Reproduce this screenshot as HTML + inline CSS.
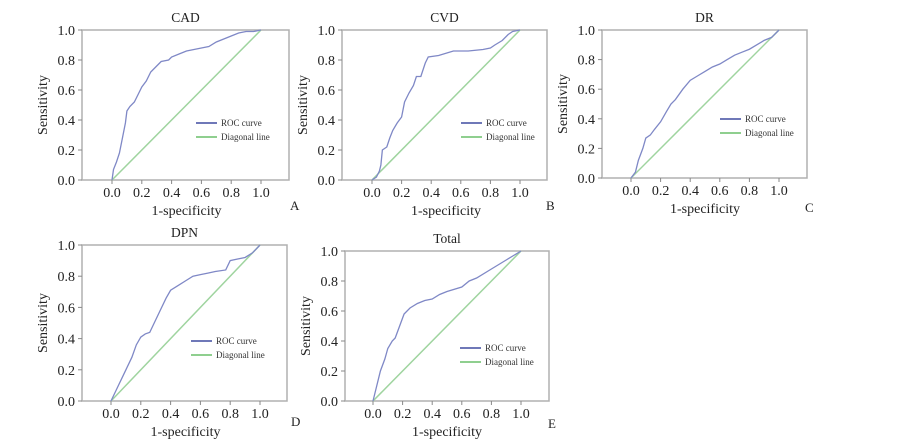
<!DOCTYPE html>
<html><head><meta charset="utf-8"><style>
body{margin:0;background:#fff;}
svg{display:block;font-family:"Liberation Serif",serif;}
</style></head><body>
<svg id="fig" width="904" height="446"></svg>
<script>
const panelTitles=["CAD","CVD","DR","DPN","Total"];
const panelLetters=["A","B","C","D","E"];
const xTicks=[0,0.2,0.4,0.6,0.8,1.0];
const yTicks=[0,0.2,0.4,0.6,0.8,1.0];
const cadFpr=[0,0.01,0.03,0.05,0.07,0.09,0.1,0.12,0.15,0.18,0.2,0.23,0.26,0.3,0.33,0.38,0.4,0.45,0.5,0.55,0.6,0.65,0.7,0.75,0.8,0.85,0.9,0.95,1];
const cadTpr=[0,0.07,0.12,0.18,0.28,0.38,0.46,0.49,0.52,0.58,0.62,0.66,0.72,0.76,0.79,0.80,0.82,0.84,0.86,0.87,0.88,0.89,0.92,0.94,0.96,0.98,0.99,0.99,1];
const cvdFpr=[0,0.03,0.05,0.06,0.07,0.1,0.12,0.14,0.17,0.2,0.22,0.25,0.28,0.3,0.33,0.36,0.38,0.45,0.55,0.65,0.75,0.8,0.83,0.88,0.92,0.95,1];
const cvdTpr=[0,0.02,0.06,0.1,0.2,0.22,0.28,0.33,0.38,0.42,0.52,0.58,0.63,0.69,0.69,0.78,0.82,0.83,0.86,0.86,0.87,0.88,0.9,0.93,0.97,0.99,1];
const drFpr=[0,0.03,0.05,0.08,0.1,0.13,0.16,0.2,0.24,0.27,0.3,0.35,0.4,0.45,0.5,0.55,0.6,0.65,0.7,0.75,0.8,0.85,0.9,0.95,1];
const drTpr=[0,0.04,0.12,0.2,0.27,0.29,0.33,0.38,0.45,0.5,0.53,0.6,0.66,0.69,0.72,0.75,0.77,0.8,0.83,0.85,0.87,0.9,0.93,0.95,1];
const dpnFpr=[0,0.03,0.06,0.1,0.14,0.17,0.2,0.23,0.26,0.3,0.34,0.37,0.4,0.45,0.5,0.55,0.6,0.65,0.7,0.77,0.8,0.85,0.9,0.95,1];
const dpnTpr=[0,0.06,0.12,0.2,0.28,0.36,0.41,0.43,0.44,0.52,0.6,0.66,0.71,0.74,0.77,0.8,0.81,0.82,0.83,0.84,0.9,0.91,0.92,0.95,1];
const totFpr=[0,0.02,0.05,0.08,0.1,0.13,0.15,0.18,0.21,0.25,0.3,0.35,0.4,0.45,0.5,0.6,0.65,0.7,0.8,0.9,0.95,1];
const totTpr=[0,0.08,0.2,0.28,0.35,0.4,0.42,0.5,0.58,0.62,0.65,0.67,0.68,0.71,0.73,0.76,0.8,0.82,0.88,0.94,0.97,1];
const allFpr=[cadFpr,cvdFpr,drFpr,dpnFpr,totFpr];
const allTpr=[cadTpr,cvdTpr,drTpr,dpnTpr,totTpr];

const L=[
 {x0:112,x1:261,yb:180,yt:30,fl:82,fr:289,ft:30,lx:196,ly:123,ax:290,ay:210},
 {x0:372,x1:520,yb:180,yt:30,fl:342,fr:547,ft:30,lx:461,ly:123,ax:546,ay:210},
 {x0:631,x1:779,yb:178,yt:30,fl:602,fr:807,ft:30,lx:720,ly:119,ax:805,ay:212},
 {x0:111,x1:260,yb:401,yt:245,fl:82,fr:287,ft:245,lx:191,ly:341,ax:291,ay:426},
 {x0:373,x1:521,yb:401,yt:251,fl:345,fr:549,ft:251,lx:460,ly:348,ax:548,ay:428}
];
const NS="http://www.w3.org/2000/svg";
const svg=document.getElementById('fig');
function mk(t,a,p){const e=document.createElementNS(NS,t);for(const k in a)e.setAttribute(k,a[k]);(p||svg).appendChild(e);return e;}
panelTitles.forEach((title,i)=>{
  const c=L[i];
  const sx=v=>c.x0+v*(c.x1-c.x0);
  const sy=v=>c.yb-v*(c.yb-c.yt);
  const g=mk('g',{});
  
  
  const fr=mk('rect',{x:c.fl,y:c.ft,width:c.fr-c.fl,height:c.yb-c.ft,fill:'#fff',stroke:'#b0b0b0','stroke-width':1.5},g);
  
  
  const t=mk('text',{x:(c.fl+c.fr)/2,y:c.ft-8,'text-anchor':'middle','font-size':13.5,fill:'#222'},g);
  t.textContent=title;
  
  
  xTicks.forEach(v=>{
    mk('line',{x1:sx(v),x2:sx(v),y1:c.yb,y2:c.yb+4,stroke:'#888'},g);
    const tx=mk('text',{x:sx(v),y:c.yb+17,'text-anchor':'middle','font-size':14,fill:'#222'},g);
    tx.textContent=v.toFixed(1);
    
    
  });
  yTicks.forEach(v=>{
    mk('line',{x1:c.fl-4,x2:c.fl,y1:sy(v),y2:sy(v),stroke:'#888'},g);
    const ty=mk('text',{x:c.fl-7,y:sy(v)+5,'text-anchor':'end','font-size':14,fill:'#222'},g);
    ty.textContent=v.toFixed(1);
    
    
  });
  const xl=mk('text',{x:sx(0.5),y:c.yb+35,'text-anchor':'middle','font-size':14,fill:'#222'},g);
  xl.textContent='1-specificity';
  
  
  const yx=c.fl-35, yy=(c.yb+c.yt)/2;
  const yl=mk('text',{x:yx,y:yy,'text-anchor':'middle','font-size':14,fill:'#222',transform:`rotate(-90 ${yx} ${yy})`},g);
  yl.textContent='Sensitivity';
  
  
  const d=mk('line',{x1:sx(0),y1:sy(0),x2:sx(1),y2:sy(1),stroke:'#9fd49f','stroke-width':1.5},g);
  
  
  const pts=allFpr[i].map((f,j)=>sx(f)+','+sy(allTpr[i][j])).join(' ');
  const r=mk('polyline',{points:pts,fill:'none',stroke:'#7f88c6','stroke-width':1.3},g);
  
  
  const lg=mk('g',{},g);
  
  
  mk('line',{x1:c.lx,x2:c.lx+21,y1:c.ly,y2:c.ly,stroke:'#6f78b8','stroke-width':2},lg);
  const l1=mk('text',{x:c.lx+25,y:c.ly+3,'font-size':9,fill:'#333'},lg);l1.textContent='ROC curve';
  
  
  mk('line',{x1:c.lx,x2:c.lx+21,y1:c.ly+14,y2:c.ly+14,stroke:'#8fcf8f','stroke-width':2},lg);
  const l2=mk('text',{x:c.lx+25,y:c.ly+17,'font-size':9,fill:'#333'},lg);l2.textContent='Diagonal line';
  
  
  const a=mk('text',{x:c.ax,y:c.ay,'font-size':13,fill:'#222'},g);
  a.textContent=panelLetters[i];
  
  
});
</script>
</body></html>
